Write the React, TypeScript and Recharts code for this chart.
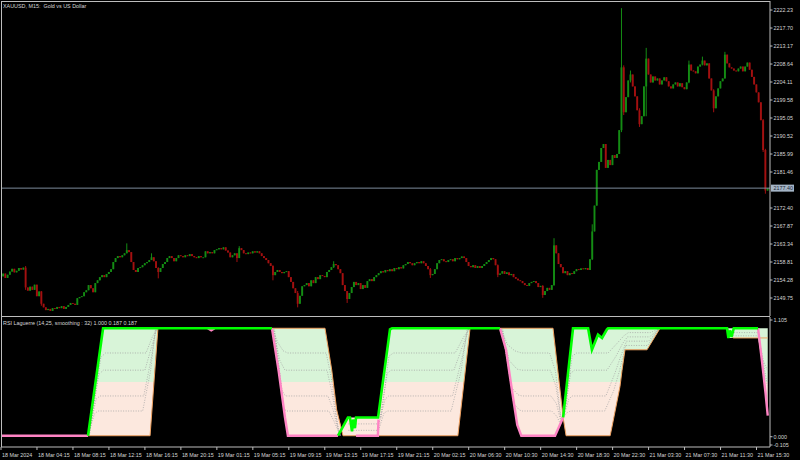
import { Area, Bar, ComposedChart, Line, ReferenceLine, XAxis, YAxis } from "recharts";

const FONT = "'Liberation Sans', Arial, sans-serif";
const FRAME = "#bdbdbd";
const TEXT = "#d6d6d6";
const BULL = "#148c14";
const BEAR = "#a31010";
const UP_FILL = "#d8f4d8";
const DOWN_FILL = "#fce8de";

const chartTitle = "XAUUSD, M15:  Gold vs US Dollar";
const indicatorTitle = "RSI Laguerre (14,25, smoothing : 32) 1.000 0.187 0.187";

// closes per session, open of each bar = previous close
const firstOpen = 2155.6;
const closesMar18 = [
  2155.2, 2155.9, 2154.8, 2155.6, 2156.4, 2157.1, 2156.2, 2156.6, 2157.3, 2156.9,
  2157.4, 2152.4, 2151.6, 2152.6, 2151.8, 2153.1, 2150.2, 2151.4, 2148.3, 2147.4,
  2146.7, 2147.0, 2146.5, 2147.2, 2147.0, 2147.5, 2147.2, 2147.7, 2147.0, 2147.5,
  2148.0, 2148.5, 2148.3, 2148.0, 2149.7, 2150.0, 2150.2, 2151.2, 2151.7, 2153.0,
  2152.2, 2151.2, 2153.5, 2154.2, 2155.0, 2155.5, 2155.0, 2155.8, 2156.3, 2157.0,
  2158.8, 2159.8, 2160.3, 2160.0, 2160.5, 2161.0, 2161.8, 2161.3, 2158.8, 2156.8,
  2156.3, 2157.3, 2157.5, 2158.0, 2158.5, 2158.8, 2159.3, 2160.0, 2159.0, 2157.3,
  2156.3, 2157.3, 2158.3, 2158.8, 2159.8, 2160.3, 2159.8, 2159.0, 2159.8, 2160.5,
  2160.3, 2160.0, 2160.5, 2160.3, 2160.8, 2160.3, 2160.0, 2159.8, 2160.3, 2160.0,
  2160.0, 2161.5, 2161.0, 2161.3, 2161.0,
];
const closesMar19 = [
  2161.8, 2162.0, 2162.3, 2162.0, 2162.5,
  2161.7, 2161.2, 2160.0, 2160.5, 2161.0, 2159.8, 2162.3, 2161.8, 2161.0, 2160.8,
  2161.2, 2161.0, 2161.5, 2161.2, 2161.5, 2161.0, 2160.3, 2159.8, 2159.3, 2158.5,
  2157.8, 2155.5, 2156.3, 2156.8, 2156.3, 2156.0, 2156.3, 2156.5, 2155.0, 2153.8,
  2152.2, 2151.0, 2148.3, 2150.3, 2152.7, 2153.0, 2153.5, 2152.7, 2154.2, 2153.5,
  2155.0, 2154.5, 2155.5, 2155.3, 2155.0, 2156.3, 2156.8, 2157.5, 2158.3, 2158.0,
  2157.0, 2156.0, 2153.0, 2151.5, 2149.5, 2151.0, 2152.5, 2153.8, 2153.0, 2153.5,
  2152.0, 2153.0, 2152.3, 2154.0, 2154.5, 2154.0, 2155.0, 2155.5, 2156.0, 2156.5,
  2156.2, 2156.8, 2156.5, 2157.0, 2156.5, 2157.3, 2157.0, 2157.5, 2157.2, 2158.0,
  2158.3, 2158.8, 2158.5, 2158.0, 2158.5, 2158.8, 2158.5,
];
const closesMar20 = [
  2159.0, 2158.5, 2157.8,
  2157.0, 2155.5, 2155.8, 2157.0, 2158.5, 2159.3, 2159.5, 2159.0, 2158.8, 2159.3,
  2159.5, 2159.0, 2159.8, 2159.5, 2159.8, 2160.2, 2159.8, 2158.8, 2157.8, 2157.5,
  2158.0, 2157.3, 2157.8, 2157.3, 2157.8, 2158.3, 2158.8, 2159.3, 2159.8, 2159.5,
  2158.0, 2155.6, 2155.9, 2156.5, 2155.8, 2156.2, 2155.5, 2155.8, 2155.0, 2154.6,
  2154.2, 2154.0, 2153.5, 2153.0, 2152.8, 2153.5, 2153.8, 2154.0, 2153.5, 2152.5,
  2152.8, 2150.5, 2151.5, 2152.3, 2151.8, 2153.0, 2163.0, 2161.0, 2158.3, 2157.5,
  2156.0, 2156.5, 2155.5, 2156.0, 2155.8, 2156.5, 2157.0, 2156.8, 2157.2, 2157.0,
  2157.3, 2156.8, 2159.5, 2166.5, 2173.0, 2182.0, 2184.0, 2187.5, 2188.5, 2182.5,
  2184.5, 2183.2, 2185.7, 2185.0, 2186.0, 2192.0, 2207.8, 2196.5,
];
const closesMar21 = [
  2200.3, 2204.5,
  2206.0, 2203.0, 2200.5, 2197.0, 2193.5, 2195.5, 2203.0, 2210.0, 2206.0, 2204.0,
  2205.5, 2204.5, 2205.0, 2203.5, 2204.5, 2205.3, 2204.3, 2203.0, 2202.5, 2203.5,
  2204.0, 2203.0, 2203.8, 2202.8, 2202.3, 2204.0, 2208.5, 2207.0, 2206.8, 2206.3,
  2208.0, 2208.5, 2209.5, 2208.3, 2208.8, 2205.0, 2202.0, 2197.5, 2200.5, 2202.5,
  2204.3, 2205.0, 2211.0, 2208.8, 2207.8, 2207.5, 2207.0, 2206.8, 2207.5, 2208.0,
  2206.8, 2208.0, 2209.0, 2207.2, 2205.4, 2203.5, 2201.5, 2199.0, 2194.5, 2187.0,
  2176.8, 2177.4,
];
// [bar, high, low] for bars with visible shadows
const wicks = [
  [11, 2157.8, 2151.8], [18, 2151.5, 2147.8], [56, 2163.5, 2161.0], [67, 2161.0, 2159.3],
  [70, 2157.5, 2154.7], [105, 2161.0, 2158.8], [106, 2162.8, 2159.8], [121, 2158.0, 2154.2],
  [132, 2151.5, 2147.4], [148, 2159.0, 2157.3], [154, 2151.5, 2148.5], [191, 2157.3, 2154.8],
  [221, 2158.2, 2155.0], [241, 2153.0, 2149.8], [246, 2164.8, 2152.8], [263, 2168.3, 2159.3],
  [276, 2222.7, 2191.5], [277, 2208.3, 2195.8], [280, 2207.0, 2204.0], [284, 2197.5, 2192.8],
  [287, 2212.7, 2195.5], [306, 2209.5, 2203.8], [312, 2210.5, 2208.3], [317, 2202.3, 2196.5],
  [322, 2211.7, 2205.0], [339, 2194.8, 2186.5], [340, 2187.3, 2176.0],
];
const lastPrice = 2177.4;

const priceTicks = [
  2222.23, 2217.7, 2213.17, 2208.64, 2204.11, 2199.58, 2195.05, 2190.52, 2185.99,
  2181.46, 2172.4, 2167.87, 2163.34, 2158.81, 2154.28, 2149.75,
];
const timeTickBars = [0, 16, 32, 48, 64, 80, 96, 112, 128, 144, 160, 176, 192, 208, 224, 240, 256, 272, 288, 304, 320, 336];
const timeLabels = [
  "18 Mar 2024", "18 Mar 04:15", "18 Mar 08:15", "18 Mar 12:15", "18 Mar 16:15", "18 Mar 20:15",
  "19 Mar 01:15", "19 Mar 05:15", "19 Mar 09:15", "19 Mar 13:15", "19 Mar 17:15", "19 Mar 21:15",
  "20 Mar 02:15", "20 Mar 06:30", "20 Mar 10:30", "20 Mar 14:30", "20 Mar 18:30", "20 Mar 22:30",
  "21 Mar 03:30", "21 Mar 07:30", "21 Mar 11:30", "21 Mar 15:30",
];
const rsiTicks = [1.105, 0, -0.105];

// indicator vertices: [bar, value]
const rsiUp = [
  [[38.7, 0], [45.4, 1], [120.5, 1]],
  [[149.9, 0], [154.3, 0.17], [155.2, 0.17], [156.1, 0.04], [156.6, 0.15], [157.4, 0.07], [157.9, 0.17],
    [167.7, 0.17], [173, 0.99], [173.9, 1], [221.9, 1]],
  [[250, 0.17], [254.4, 1], [261.1, 1], [262.8, 0.8], [265.5, 0.94], [267.3, 0.91], [269.5, 0.99], [270, 1],
    [322.9, 1], [323.5, 0.91], [324.2, 0.98], [324.9, 0.92], [325.9, 1], [336.7, 1]],
];
const rsiDown = [
  [[0, 0], [38.7, 0]],
  [[92, 1], [93.5, 0.98], [95, 1]],
  [[120.5, 1], [123.5, 0.6], [126.3, 0.17], [127.6, 0], [149.9, 0]],
  [[157.9, 0], [167.6, 0], [167.9, 0.15]],
  [[221.9, 1], [224.6, 0.8], [227.4, 0.4], [229.6, 0.1], [231.4, 0], [246.4, 0], [250, 0.17]],
  [[336.7, 1], [338.5, 0.68], [340, 0.4], [341, 0.187]],
];
const lagLine = [
  [0, 0], [66.3, 0], [69.8, 1], [144.1, 1], [147.1, 0.61], [149.3, 0.24], [151.5, 0.05], [152.1, 0],
  [203.2, 0], [208.6, 1], [245.5, 1], [250, 0.17], [251.3, 0], [270.9, 0], [271.7, 0.08], [275.3, 0.46],
  [276.2, 0.61], [277.5, 0.8], [287.3, 0.8], [293.1, 1], [322.9, 1], [325.6, 0.91], [341, 0.91],
];
const fanLines = [
  [[38.7, 0], [41.5, 0.2], [43, 0.23], [63, 0.23], [66.5, 0.6], [68.7, 1]],
  [[38.9, 0], [42.3, 0.34], [44, 0.37], [63.5, 0.37], [66.8, 0.72], [69, 1]],
  [[39.1, 0], [43.5, 0.57], [45.5, 0.61], [64, 0.61], [67, 0.83], [69.3, 1]],
  [[39.3, 0], [44.4, 0.73], [46.5, 0.77], [64.5, 0.77], [67.3, 0.92], [69.5, 1]],
  [[121.6, 1], [125.8, 0.25], [127, 0.23], [145.8, 0.23], [148, 0.14], [150.3, 0.03], [151.2, 0]],
  [[121.3, 1], [125, 0.42], [126.5, 0.37], [145.4, 0.37], [147.6, 0.25], [150, 0.05], [151, 0]],
  [[121, 1], [124, 0.7], [126.3, 0.61], [145, 0.61], [147.2, 0.4], [149.8, 0.08], [150.8, 0]],
  [[120.8, 1], [123, 0.87], [125.5, 0.79], [127.5, 0.77], [144.6, 0.77], [146.8, 0.55], [149.6, 0.12], [150.5, 0]],
  [[154.5, 0.05], [167.9, 0.05], [170.3, 0.21], [171.8, 0.23], [200.2, 0.23], [204.6, 0.6], [207.4, 1]],
  [[154.5, 0.11], [168.1, 0.11], [170.8, 0.34], [172.4, 0.37], [200.8, 0.37], [205, 0.72], [207.8, 1]],
  [[168.6, 0.17], [171.8, 0.58], [173.4, 0.61], [201.4, 0.61], [205.4, 0.84], [208.1, 1]],
  [[169, 0.17], [172.5, 0.74], [174.5, 0.77], [202, 0.77], [205.8, 0.92], [208.4, 1]],
  [[223.1, 1], [228, 0.3], [230.5, 0.24], [231.8, 0.23], [244.9, 0.23], [247.2, 0.18], [248.8, 0.11]],
  [[222.8, 1], [227, 0.45], [230, 0.38], [231.7, 0.37], [244.6, 0.37], [247, 0.3], [249, 0.13]],
  [[222.5, 1], [226, 0.7], [229.5, 0.62], [231.6, 0.61], [244.3, 0.61], [246.8, 0.46], [249.2, 0.13]],
  [[222.2, 1], [225.2, 0.85], [228.5, 0.79], [231.5, 0.77], [244, 0.77], [246.6, 0.6], [248.8, 0.2], [249.5, 0.15]],
  [[250.3, 0.18], [252, 0.22], [253.5, 0.23], [268.5, 0.23], [272.5, 0.42], [275, 0.6], [277.8, 0.84], [287.6, 0.84], [292.6, 1]],
  [[250.6, 0.2], [252.5, 0.34], [254, 0.37], [269, 0.37], [273, 0.58], [275.8, 0.75], [278.2, 0.88], [288, 0.88], [292.8, 1]],
  [[251, 0.25], [253.3, 0.58], [255, 0.61], [269.5, 0.61], [273.5, 0.74], [276.5, 0.86], [278.6, 0.92], [288.4, 0.92], [293, 1]],
  [[251.3, 0.3], [254, 0.74], [256, 0.77], [270, 0.77], [274, 0.86], [277, 0.93], [279, 0.96], [288.8, 0.96], [293.1, 1]],
  [[323.8, 0.96], [336.7, 0.96], [339.5, 0.62], [341, 0.45]],
  [[324.5, 0.93], [336.7, 0.93], [339, 0.7], [341, 0.6]],
];
// [bar, low, high] of the shaded band between the RSI and its lagging line
const fillBand = [
  [38.7, 0, 0], [42.0, 0, 0.5], [45.4, 0, 1], [66.3, 0, 1], [68.0, 0.5, 1], [69.8, 1, 1],
  [120.5, 1, 1], [124.0, 0.5, 1], [126.3, 0.17, 1], [127.6, 0, 1], [144.1, 0, 1], [147.1, 0, 0.61],
  [147.75, 0, 0.5], [149.3, 0, 0.24], [149.9, 0, 0.19], [151.5, 0.05, 0.06], [152.1, 0, 0.08],
  [154.3, 0, 0.17], [167.7, 0, 0.17], [169.8, 0, 0.5], [173.0, 0, 0.99], [173.9, 0, 1], [203.2, 0, 1],
  [205.9, 0.5, 1], [208.6, 1, 1],
  [221.9, 1, 1], [224.6, 0.8, 1], [226.7, 0.5, 1], [227.4, 0.4, 1], [229.6, 0.1, 1], [231.4, 0, 1],
  [245.5, 0, 1], [246.4, 0, 0.83], [248.2, 0.09, 0.5], [250, 0.17, 0.17], [251.3, 0, 0.42], [251.7, 0, 0.5],
  [254.4, 0, 1], [261.1, 0, 1], [262.8, 0, 0.8], [265.5, 0, 0.94], [267.3, 0, 0.91], [269.5, 0, 0.99],
  [270.9, 0, 1], [271.7, 0.08, 1], [275.3, 0.46, 1], [275.5, 0.5, 1], [276.2, 0.61, 1], [277.5, 0.8, 1],
  [287.3, 0.8, 1], [293.1, 1, 1],
  [322.9, 1, 1], [323.5, 0.91, 1], [336.7, 0.91, 1], [338.5, 0.68, 1], [339.3, 0.5, 1], [340, 0.4, 1], [341, 0.187, 1],
];

const closes = [...closesMar18, ...closesMar19, ...closesMar20, ...closesMar21];
const wickMap = new Map(wicks.map(([i, h, l]) => [i, { h, l }]));
const candles = closes.map((c, i) => {
  const o = i === 0 ? firstOpen : closes[i - 1];
  const w = wickMap.get(i);
  const h = Math.max(o, c, w ? w.h : -Infinity);
  const l = Math.min(o, c, w ? w.l : Infinity);
  return { i, o, h, l, c, range: [l, h] };
});

const pts = (arr: number[][]) => arr.map(([i, v]) => ({ i, v }));
const fillUp = fillBand.map(([i, lo, hi]) => ({ i, r: [Math.max(lo, 0.5), Math.max(hi, 0.5)] }));
const fillDown = fillBand.map(([i, lo, hi]) => ({ i, r: [Math.min(lo, 0.5), Math.min(hi, 0.5)] }));

const AXIS_X = 770;
const IND_H = 143;
const IND_PLOT = 130;

const Candle = (props: any) => {
  const { x, y, width, height, payload } = props;
  if (x == null || y == null || !payload) return <g />;
  const { o, h, l, c } = payload;
  let top = y;
  let hgt = height || 0;
  if (hgt < 0) {
    top = y + hgt;
    hgt = -hgt;
  }
  const cx = x + width / 2;
  const k = h > l ? hgt / (h - l) : 0;
  const b1 = top + (h - Math.max(o, c)) * k;
  const b2 = top + (h - Math.min(o, c)) * k;
  const color = c >= o ? BULL : BEAR;
  return (
    <g>
      {hgt > 0 && <line x1={cx} x2={cx} y1={top} y2={top + hgt} stroke={color} strokeWidth={1} />}
      <rect x={cx - 0.95} y={b1} width={1.9} height={Math.max(b2 - b1, 0.9)} fill={color} />
    </g>
  );
};

const priceTick = (p: any) => (
  <g>
    <line x1={AXIS_X} x2={AXIS_X + 2.5} y1={p.y} y2={p.y} stroke={FRAME} />
    <text x={AXIS_X + 3.5} y={p.y + 2} fontSize={5.4} fill={TEXT} fontFamily={FONT}>
      {Number(p.payload.value).toFixed(2)}
    </text>
  </g>
);

const rsiTick = (p: any) => {
  const v = Number(p.payload.value);
  const y = p.y + (v > 1 ? 3 : v < 0 ? -2 : 1);
  return (
    <g>
      <line x1={AXIS_X} x2={AXIS_X + 2.5} y1={y} y2={y} stroke={FRAME} />
      <text x={AXIS_X + 3.5} y={y + 2} fontSize={5.4} fill={TEXT} fontFamily={FONT}>
        {v.toFixed(3)}
      </text>
    </g>
  );
};

const timeTick = (p: any) => {
  const k = timeTickBars.indexOf(Number(p.payload.value));
  return (
    <g>
      <line x1={p.x} x2={p.x} y1={IND_PLOT} y2={IND_PLOT + 3} stroke={FRAME} />
      <text x={p.x + 1} y={IND_PLOT + 9.5} fontSize={5.4} fill={TEXT} fontFamily={FONT}>
        {timeLabels[k]}
      </text>
    </g>
  );
};

const priceBox = (p: any) => {
  const y = p.viewBox ? p.viewBox.y : 0;
  return (
    <g>
      <rect x={AXIS_X + 1} y={y - 3.5} width={23} height={7} fill="#a4b4c6" />
      <text x={AXIS_X + 3.5} y={y + 2} fontSize={5.4} fill="#1c2836" fontFamily={FONT}>
        {lastPrice.toFixed(2)}
      </text>
    </g>
  );
};

const line = (left: number, top: number, width: number, height: number) => (
  <div style={{ position: "absolute", left, top, width, height, background: FRAME }} />
);

const label = (text: string, left: number, top: number) => (
  <div
    style={{
      position: "absolute",
      left,
      top,
      fontSize: 5.4,
      lineHeight: "6px",
      color: TEXT,
      whiteSpace: "pre",
      fontFamily: FONT,
    }}
  >
    {text}
  </div>
);

export default function App() {
  return (
    <div style={{ position: "absolute", left: 0, top: 0, width: 800, height: 460, background: "#000", overflow: "hidden" }}>
      <div style={{ position: "absolute", left: 0, top: 0 }}>
        <ComposedChart width={800} height={316} data={candles} margin={{ top: 1, right: 0, bottom: 0, left: 1 }}>
          <XAxis type="number" dataKey="i" domain={[0, 342]} hide allowDataOverflow />
          <YAxis
            orientation="right"
            width={30}
            domain={[2145.22, 2224.5]}
            ticks={priceTicks}
            interval={0}
            allowDataOverflow
            axisLine={{ stroke: FRAME }}
            tickLine={false}
            tick={priceTick}
          />
          <ReferenceLine y={lastPrice} stroke="#7d8b9b" strokeWidth={1} label={priceBox} />
          <Bar dataKey="range" barSize={2} shape={Candle} isAnimationActive={false} />
        </ComposedChart>
      </div>
      <div style={{ position: "absolute", left: 0, top: 317 }}>
        <ComposedChart width={800} height={IND_H} margin={{ top: 0, right: 0, bottom: 0, left: 1 }}>
          <XAxis
            type="number"
            dataKey="i"
            domain={[0, 342]}
            ticks={timeTickBars}
            interval={0}
            height={IND_H - IND_PLOT}
            allowDataOverflow
            axisLine={{ stroke: FRAME }}
            tickLine={false}
            tick={timeTick}
          />
          <YAxis
            orientation="right"
            width={30}
            domain={[-0.105, 1.105]}
            ticks={rsiTicks}
            interval={0}
            allowDataOverflow
            axisLine={{ stroke: FRAME }}
            tickLine={false}
            tick={rsiTick}
          />
          <Area data={fillDown} dataKey="r" type="linear" stroke="none" fill={DOWN_FILL} fillOpacity={1} dot={false} activeDot={false} isAnimationActive={false} />
          <Area data={fillUp} dataKey="r" type="linear" stroke="none" fill={UP_FILL} fillOpacity={1} dot={false} activeDot={false} isAnimationActive={false} />
          {fanLines.map((f, k) => (
            <Line key={"f" + k} data={pts(f)} dataKey="v" type="linear" stroke="#a4a4a4" strokeWidth={0.8} strokeDasharray="1 1.5" dot={false} activeDot={false} isAnimationActive={false} />
          ))}
          <Line data={pts(lagLine)} dataKey="v" type="linear" stroke="#eea060" strokeWidth={1} dot={false} activeDot={false} isAnimationActive={false} />
          {rsiDown.map((s, k) => (
            <Line key={"d" + k} data={pts(s)} dataKey="v" type="linear" stroke="#ff84c4" strokeWidth={2.4} dot={false} activeDot={false} isAnimationActive={false} />
          ))}
          {rsiUp.map((s, k) => (
            <Line key={"u" + k} data={pts(s)} dataKey="v" type="linear" stroke="#00ff00" strokeWidth={2.6} dot={false} activeDot={false} isAnimationActive={false} />
          ))}
        </ComposedChart>
      </div>
      {line(1, 1, 769, 1)}
      {line(1, 1, 1, 446)}
      {line(1, 316, 769, 1)}
      {label(chartTitle, 3, 3)}
      {label(indicatorTitle, 3, 320)}
    </div>
  );
}
